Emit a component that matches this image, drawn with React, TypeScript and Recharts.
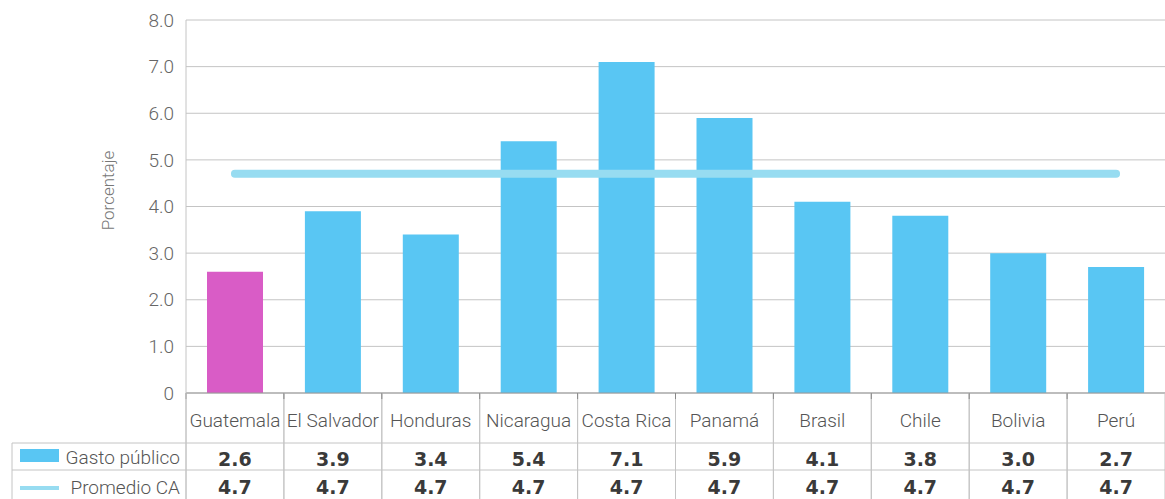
import React from 'react';
import {
  ComposedChart,
  Bar,
  Line,
  Cell,
  XAxis,
  YAxis,
  CartesianGrid,
} from 'recharts';

const countries = [
  'Guatemala',
  'El Salvador',
  'Honduras',
  'Nicaragua',
  'Costa Rica',
  'Panamá',
  'Brasil',
  'Chile',
  'Bolivia',
  'Perú',
];
const gastoPublico = [2.6, 3.9, 3.4, 5.4, 7.1, 5.9, 4.1, 3.8, 3.0, 2.7];
const promedioCA = [4.7, 4.7, 4.7, 4.7, 4.7, 4.7, 4.7, 4.7, 4.7, 4.7];
const yTicks = [0, 1, 2, 3, 4, 5, 6, 7, 8];

const WIDTH = 1165;
const HEIGHT = 499;
const LEFT = 186;
const TOP = 20;
const AXIS_H = 106;
const PLOT_W = WIDTH - LEFT;
const CELL_W = PLOT_W / countries.length;

const BAR_BLUE = '#59c6f3';
const HIGHLIGHT = '#d95cc6';
const AVG_BLUE = '#97dcf1';
const GRID = '#c4c4c4';
const FONT = 'Roboto, "Liberation Sans", sans-serif';
const BOLD_FONT = '"DejaVu Sans", sans-serif';

const data = countries.map((pais, i) => ({
  pais,
  gasto: gastoPublico[i],
  promedio: promedioCA[i],
}));

// each x tick draws one column of the table under the chart
const TableTick = (props: any) => {
  const { x, y, payload, index } = props;
  const left = x - CELL_W / 2;
  const right = x + CELL_W / 2;
  return (
    <g>
      <line x1={left} x2={left} y1={y - 8} y2={HEIGHT} stroke={GRID} />
      <line x1={right} x2={right} y1={y - 8} y2={HEIGHT} stroke={GRID} />
      <line x1={left} x2={left} y1={y - 8} y2={y - 2} stroke="#888" />
      <text
        x={x}
        y={y + 26}
        textAnchor="middle"
        fontSize={19}
        fontWeight={300}
        fill="#555"
        fontFamily={FONT}
      >
        {payload.value}
      </text>
      <text
        x={x}
        y={y + 65}
        textAnchor="middle"
        fontSize={19}
        fontWeight={700}
        fill="#3a3a3a"
        fontFamily={BOLD_FONT}
      >
        {gastoPublico[index].toFixed(1)}
      </text>
      <text
        x={x}
        y={y + 93}
        textAnchor="middle"
        fontSize={19}
        fontWeight={700}
        fill="#3a3a3a"
        fontFamily={BOLD_FONT}
      >
        {promedioCA[index].toFixed(1)}
      </text>
    </g>
  );
};

const YLabel = (props: any) => {
  const { viewBox } = props;
  const x = 108;
  const y = viewBox.y + viewBox.height / 2 - 16;
  return (
    <text
      x={x}
      y={y}
      transform={`rotate(-90, ${x}, ${y})`}
      textAnchor="middle"
      dominantBaseline="central"
      fontSize={17}
      fontWeight={300}
      fill="#777"
      fontFamily={FONT}
    >
      Porcentaje
    </text>
  );
};

const LegendColumn = () => (
  <svg
    width={WIDTH}
    height={HEIGHT}
    style={{ position: 'absolute', left: 0, top: 0, pointerEvents: 'none' }}
  >
    <line x1={12} x2={WIDTH} y1={443} y2={443} stroke={GRID} />
    <line x1={12} x2={WIDTH} y1={470} y2={470} stroke={GRID} />
    <line x1={12} x2={12} y1={443} y2={HEIGHT} stroke={GRID} />
    <line x1={LEFT} x2={LEFT} y1={393} y2={HEIGHT} stroke={GRID} />
    <rect x={20} y={449} width={39} height={13} fill={BAR_BLUE} />
    <text
      x={180}
      y={464}
      textAnchor="end"
      fontSize={19}
      fontWeight={300}
      fill="#555"
      fontFamily={FONT}
    >
      Gasto público
    </text>
    <line x1={20} x2={59} y1={488} y2={488} stroke={AVG_BLUE} strokeWidth={4} />
    <text
      x={180}
      y={494}
      textAnchor="end"
      fontSize={19}
      fontWeight={300}
      fill="#555"
      fontFamily={FONT}
    >
      Promedio CA
    </text>
  </svg>
);

export default function App() {
  return (
    <div
      style={{
        position: 'absolute',
        left: 0,
        top: 0,
        width: WIDTH,
        height: HEIGHT,
        background: '#fff',
        overflow: 'hidden',
      }}
    >
      <ComposedChart
        width={WIDTH}
        height={HEIGHT}
        data={data}
        margin={{ top: TOP, right: 0, bottom: 0, left: 0 }}
        barCategoryGap={21}
      >
        <CartesianGrid vertical={false} stroke={GRID} />
        <XAxis
          dataKey="pais"
          height={AXIS_H}
          interval={0}
          tickLine={false}
          axisLine={{ stroke: '#999' }}
          tick={<TableTick />}
        />
        <YAxis
          width={LEFT}
          domain={[0, 8]}
          ticks={yTicks}
          tickLine={false}
          axisLine={{ stroke: GRID }}
          tickFormatter={(v: number) => (v === 0 ? '0' : v.toFixed(1))}
          tick={{ fontSize: 19, fill: '#666', fontFamily: FONT, fontWeight: 300 }}
          tickMargin={6}
          label={<YLabel />}
        />
        <Bar dataKey="gasto" isAnimationActive={false}>
          {data.map((d, i) => (
            <Cell key={d.pais} fill={i === 0 ? HIGHLIGHT : BAR_BLUE} />
          ))}
        </Bar>
        <Line
          dataKey="promedio"
          stroke={AVG_BLUE}
          strokeWidth={8}
          strokeLinecap="round"
          dot={false}
          activeDot={false}
          isAnimationActive={false}
        />
      </ComposedChart>
      <LegendColumn />
    </div>
  );
}
